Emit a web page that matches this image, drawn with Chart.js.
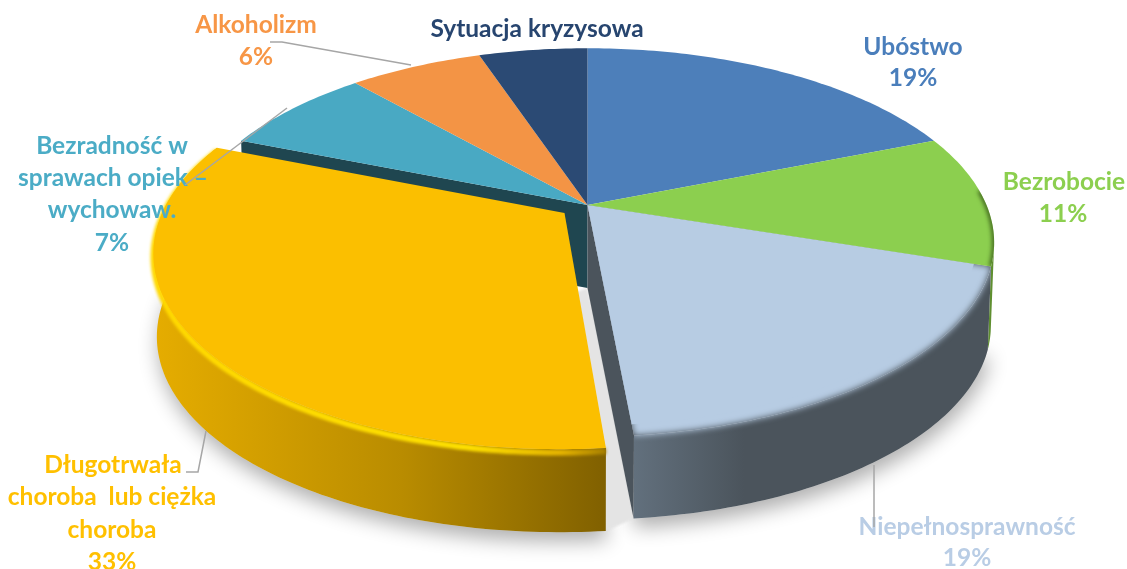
<!DOCTYPE html>
<html lang="pl">
<head>
<meta charset="utf-8">
<title>Pie</title>
<style>html,body{margin:0;padding:0;background:#fff}canvas{display:block}</style>
<script src="https://cdn.jsdelivr.net/npm/chart.js@4/dist/chart.umd.min.js"></script>
</head>
<body>
<canvas id="c" width="1127" height="569"></canvas>
<script>
const categories = ["Ubóstwo","Bezrobocie","Niepełnosprawność","Długotrwała choroba lub ciężka choroba","Bezradność w sprawach opiek – wychowaw.","Alkoholizm","Sytuacja kryzysowa"];
const values = [19, 11, 18.5, 32.5, 7.4, 6.4, 5.2];
const percentLabels = ["19%","11%","19%","33%","7%","6%","5%"];
const sliceColors = ["#4d7fba","#8ccf4f","#b7cce3","#fbbf00","#49a9c3","#f39445","#2b4a74"];
const textColors = ["#4a7ebb","#8ccf4f","#b9cde5","#ffc000","#4bacc6","#f79646","#27456f"];
const explodeOffsets = [0,0,0,30,0,0,0];

// perspective pie geometry
const CX=587.5, CY=205, RX=399, RY=187, K=0.193, DEPTH=83, EXPL=0.0715;
function P(u,v,z){const d=1-K*v;return {x:CX+RX*u/d*(1-0.008*(z||0)),y:CY+RY*v/d+DEPTH*(z||0)};}
function rim(a0,a1,du,dv,z,scale){const n=Math.max(2,Math.ceil(Math.abs(a1-a0)*60)),o=[],s=scale||1;
  for(let i=0;i<=n;i++){const a=a0+(a1-a0)*i/n;o.push(P(s*Math.cos(a)+du,s*Math.sin(a)+dv,z));}return o;}
function path(ctx,pts){ctx.beginPath();pts.forEach((p,i)=>i?ctx.lineTo(p.x,p.y):ctx.moveTo(p.x,p.y));}
function fill(ctx,pts,c){path(ctx,pts);ctx.closePath();ctx.fillStyle=c;ctx.fill();}
function hGrad(ctx,stops,x0,x1){const g=ctx.createLinearGradient(x0,0,x1,0);stops.forEach(s=>g.addColorStop(s[0],s[1]));return g;}

const pie3d={
  id:'pie3d',
  beforeDatasetDraw(chart){
    const ctx=chart.ctx,arcs=chart.getDatasetMeta(0).data;
    const geo=arcs.map(a=>{
      const mid=(a.startAngle+a.endAngle)/2,ex=a.options.offset>0?EXPL:0;
      return {a0:a.startAngle,a1:a.endAngle,du:ex*Math.cos(mid),dv:ex*Math.sin(mid),color:a.options.backgroundColor};
    });
    const top=g=>[P(g.du,g.dv,0),...rim(g.a0,g.a1,g.du,g.dv,0)];
    const wall=g=>[...rim(g.a0,g.a1,g.du,g.dv,0),...rim(g.a0,g.a1,g.du,g.dv,1).reverse()];
    const [blue,green,light,yellow,teal]=geo;
    ctx.save();
    // floor shadow
    ctx.save();
    ctx.shadowColor='rgba(0,0,0,0.32)';ctx.shadowBlur=20;ctx.shadowOffsetY=9;ctx.shadowOffsetX=2;
    fill(ctx,[P(light.du,light.dv,1),...rim(light.a0,light.a1,light.du,light.dv,1)],'#ddd');
    fill(ctx,[P(yellow.du,yellow.dv,1),...rim(yellow.a0,yellow.a1,yellow.du,yellow.dv,1)],'#ddd');
    ctx.restore();
    // gap between the exploded slice and the rest
    const lc=rim(light.a0,light.a1,0,0,1),yc=rim(yellow.a0,yellow.a1,yellow.du,yellow.dv,1);
    ctx.save();ctx.filter='blur(1px)';
    fill(ctx,[P(0,0,1),lc[lc.length-1],yc[0],P(yellow.du,yellow.dv,1)],'#e4e4e4');
    ctx.restore();
    // walls behind
    fill(ctx,wall({...green,a0:green.a0+0.6}),'#5f8f30');
    fill(ctx,[P(0,0,0),...rim(teal.a0,teal.a0,0,0,0).slice(0,1),...rim(teal.a0,teal.a0,0,0,1).slice(0,1),P(0,0,1)],'#1f4650');
    const lEnd=P(Math.cos(light.a1),Math.sin(light.a1),0),lEndB=P(Math.cos(light.a1),Math.sin(light.a1),1);
    fill(ctx,[P(0,0,0),lEnd,lEndB,P(0,0,1)],'#4b545c');
    fill(ctx,wall(light),hGrad(ctx,[[0,'#62707d'],[1,'#4b545c']],lEnd.x,lEnd.x+110));
    // soft rim of the light slice
    fill(ctx,top(light),'#4b545c');
    ctx.save();
    path(ctx,[P(0,0,0),P(Math.cos(light.a0),Math.sin(light.a0),0),...rim(light.a0,light.a1,0,0,0.3),lEnd]);ctx.closePath();ctx.clip();
    ctx.filter='blur(3px)';
    fill(ctx,[...top(light)],light.color);
    ctx.restore();
    fill(ctx,[P(0,0,0),...rim(light.a0,light.a1,0,0,0,0.96)],light.color);
    // top faces of the slices at rest
    geo.forEach(g=>{ if(g!==yellow&&g!==light) fill(ctx,top(g),g.color); });
    // dark inner shading on the right-hand rim
    ctx.save();
    path(ctx,top(green));ctx.closePath();ctx.clip();
    ctx.filter='blur(2px)';
    path(ctx,rim(green.a0+0.3,green.a1,0,0,0));ctx.strokeStyle='rgba(35,60,10,0.8)';ctx.lineWidth=4;ctx.stroke();
    ctx.restore();
    // exploded slice
    fill(ctx,wall(yellow),hGrad(ctx,[[0,'#e6ad00'],[0.55,'#b98c00'],[1,'#806000']],150,607));
    ctx.save();ctx.filter='blur(1.5px)';
    const rimY=rim(yellow.a0,yellow.a1,yellow.du,yellow.dv,0.04);
    path(ctx,rimY);ctx.strokeStyle=hGrad(ctx,[[0,'#ffd800'],[0.7,'#ffe100'],[0.9,'#e6b400'],[1,'#a67f00']],150,607);ctx.lineWidth=6;ctx.stroke();
    ctx.restore();
    fill(ctx,top(yellow),yellow.color);
    ctx.restore();
    return false;
  },
  afterDraw(chart){
    const ctx=chart.ctx;
    ctx.save();
    ctx.textAlign='center';ctx.textBaseline='middle';ctx.font='700 '+LABEL_SIZE+'px Lato, Carlito, sans-serif';
    labelLines.forEach(l=>{ctx.fillStyle=textColors[l[0]];ctx.fillText(l[1],l[2],l[3]);});
    ctx.strokeStyle='#a6a6a6';ctx.lineWidth=1.5;
    leaders.forEach(pts=>{path(ctx,pts.map(p=>({x:p[0],y:p[1]})));ctx.stroke();});
    ctx.restore();
  }
};
const LABEL_SIZE=24.5;
const labelLines=[
 [6,"Sytuacja kryzysowa",537,29],
 [0,"Ubóstwo",913,47],[0,percentLabels[0],913,78],
 [1,"Bezrobocie",1064,182],[1,percentLabels[1],1063,214],
 [2,"Niepełnosprawność",967,527],[2,percentLabels[2],967,558],
 [3,"Długotrwała",113,465],[3,"choroba  lub ciężka",112,497],[3,"choroba",112,530],[3,percentLabels[3],112,562],
 [4,"Bezradność w",112,146],[4,"sprawach opiek –",113,178],[4,"wychowaw.",112,210],[4,percentLabels[4],112,243],
 [5,"Alkoholizm",256,25],[5,percentLabels[5],256,57]
];
const leaders=[
 [[270,42],[282,42],[411,65]],
 [[287,108],[185,185]],
 [[206,431],[198,472],[186,472]],
 [[874,465],[874,527]]
];
new Chart(document.getElementById('c'),{
  type:'pie',
  data:{labels:categories,datasets:[{data:values,backgroundColor:sliceColors,offset:explodeOffsets,borderWidth:0}]},
  options:{responsive:false,animation:false,plugins:{legend:{display:false},tooltip:{enabled:false}}},
  plugins:[pie3d]
});
</script>
</body>
</html>
